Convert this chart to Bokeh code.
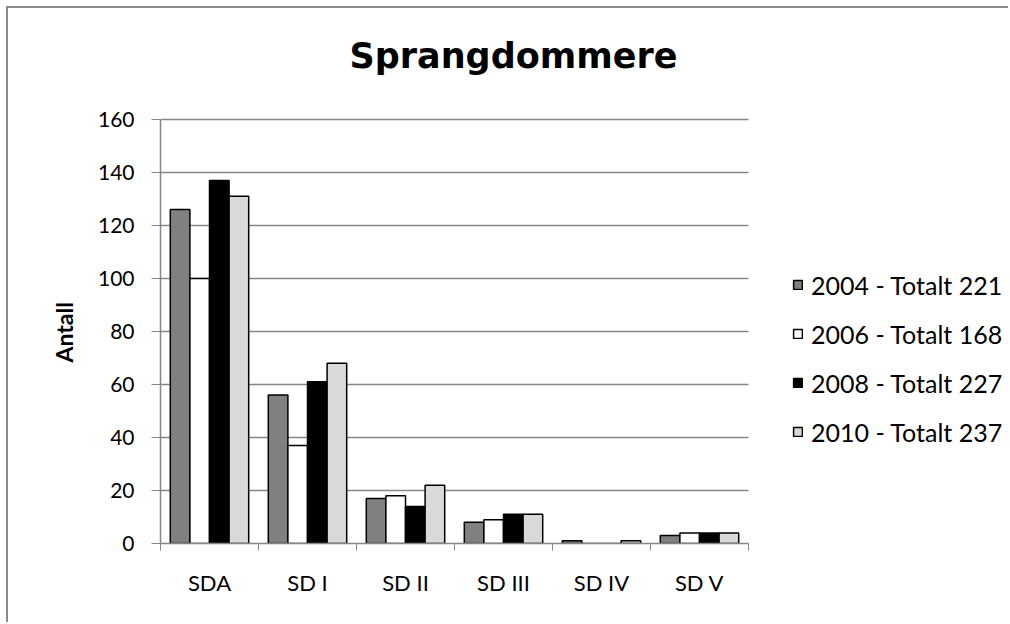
from bokeh.plotting import figure
from bokeh.models import Range1d, FixedTicker, Legend, LegendItem, Label, Title, ColumnDataSource
from bokeh.embed import file_html
from bokeh.resources import INLINE

# ---- data ----
categories = ["SDA", "SD I", "SD II", "SD III", "SD IV", "SD V"]
series_names = ["2004 - Totalt 221", "2006 - Totalt 168", "2008 - Totalt 227", "2010 - Totalt 237"]
v2004 = [126, 56, 17, 8, 1, 3]
v2006 = [100, 37, 18, 9, 0, 4]
v2008 = [137, 61, 14, 11, 0, 4]
v2010 = [131, 68, 22, 11, 1, 4]
y_ticks = [0, 20, 40, 60, 80, 100, 120, 140, 160]
title_text = "Sprangdommere"
y_label = "Antall"

series_values = [v2004, v2006, v2008, v2010]
colors = ["#808080", "#ffffff", "#000000", "#d9d9d9"]
FONT = "Lato"
GRAY = "#868686"
YMAX = 160

# ---- layout (canvas pixels) ----
W, H = 1002, 616
L = 152            # frame left
PLOT_TOP = 111     # pixel of YMAX
FB = 535           # frame bottom (y=0)
PW = 588           # width of the category area
n_cat = len(categories)

x_end = n_cat * (W - L) / PW
y_end = YMAX * FB / (FB - PLOT_TOP)

p = figure(width=W, height=H, output_backend="svg", toolbar_location=None, title=None,
           x_range=Range1d(0, x_end), y_range=Range1d(0, y_end),
           min_border_left=L, min_border_top=0, min_border_right=0,
           min_border_bottom=H - FB)
p.styles = {"margin-left": "6px", "margin-top": "6px",
            "border-left": "2px solid #8a8a8a", "border-top": "2px solid #8a8a8a"}
p.outline_line_color = None
p.background_fill_color = "white"
p.border_fill_color = "white"
p.xgrid.grid_line_color = None
p.ygrid.grid_line_color = None

# horizontal gridlines over the category area
grid_y = [t for t in y_ticks if t > 0]
p.segment(x0=[0] * len(grid_y), x1=[n_cat] * len(grid_y), y0=grid_y, y1=grid_y,
          line_color=GRAY, line_width=1.5)

n = len(series_values)
bw = 0.2
items = []
for k, (vals, col, name) in enumerate(zip(series_values, colors, series_names)):
    xs = [i + 0.5 + (k - (n - 1) / 2) * bw for i in range(n_cat)]
    src = ColumnDataSource(dict(x=xs, top=vals))
    r = p.vbar(x="x", top="top", width=bw, bottom=0, source=src,
               fill_color=col, line_color="black", line_width=1.5)
    items.append(LegendItem(label=name, renderers=[r]))

# x axis: category labels at centres, tick marks at boundaries
xa = p.xaxis[0]
xa.bounds = (0, n_cat)
xa.ticker = FixedTicker(ticks=[i + 0.5 for i in range(n_cat)],
                        minor_ticks=list(range(n_cat + 1)))
xa.major_label_overrides = {i + 0.5: c for i, c in enumerate(categories)}
xa.major_tick_line_color = None
xa.minor_tick_line_color = GRAY
xa.minor_tick_out = 7
xa.minor_tick_in = 0
xa.axis_line_color = GRAY
xa.axis_line_width = 1.5
xa.major_label_text_font = FONT
xa.major_label_text_font_size = "22px"
xa.major_label_text_color = "black"
xa.major_label_standoff = 18

ya = p.yaxis[0]
ya.bounds = (0, YMAX)
ya.ticker = FixedTicker(ticks=y_ticks)
ya.minor_tick_line_color = None
ya.major_tick_line_color = GRAY
ya.major_tick_out = 9
ya.major_tick_in = 0
ya.axis_line_color = GRAY
ya.axis_line_width = 1.5
ya.major_label_text_font = FONT
ya.major_label_text_font_size = "21px"
ya.major_label_text_color = "black"
ya.major_label_standoff = 17

# y-axis title, placed along the plotted value range
ytitle = Title(text=y_label, align="left", offset=FB - 354, standoff=34,
               text_font=FONT, text_font_size="23px", text_font_style="bold",
               text_color="black")
p.add_layout(ytitle, "left")

title = Label(x=353, y=FB - 57 + 10, x_units="screen", y_units="screen", text=title_text,
              text_font="DejaVu Sans", text_font_size="35px", text_font_style="bold",
              text_align="center", text_baseline="alphabetic", text_color="black")
p.add_layout(title)

legend = Legend(items=items, location=(632, 96), orientation="vertical",
                label_text_font=FONT, label_text_font_size="25px", label_text_color="black",
                glyph_width=11, glyph_height=11, label_height=31, spacing=18,
                padding=0, margin=0, border_line_color=None, background_fill_alpha=0,
                label_standoff=8)
p.add_layout(legend, "center")

open("out.html", "w").write(file_html(p, INLINE))
